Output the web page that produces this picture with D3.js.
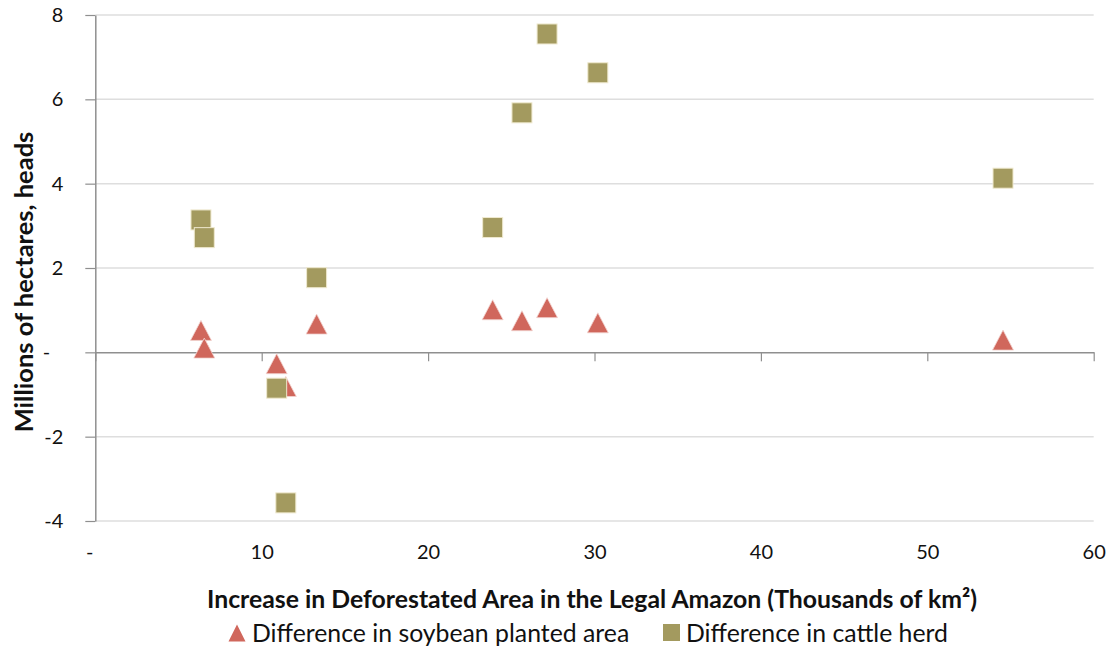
<!DOCTYPE html>
<html>
<head>
<meta charset="utf-8">
<script src="https://cdn.jsdelivr.net/npm/d3@7"></script>
<style>
  html, body { margin: 0; padding: 0; background: #fff; }
  svg { display: block; font-family: Lato, "Open Sans", sans-serif; }
</style>
</head>
<body>
<svg id="chart" width="1112" height="649"></svg>
<script>
// ---- data ----
const deforestation = [6.35, 6.55, 13.3, 10.9, 11.45, 23.88, 25.64, 27.15, 30.2, 54.55];
const soybean = [0.52, 0.10, 0.67, -0.27, -0.81, 1.01, 0.75, 1.06, 0.70, 0.29];
const cattle = [3.14, 2.72, 1.77, -0.85, -3.57, 2.96, 5.68, 7.55, 6.63, 4.13];
const xTicks = [0, 10, 20, 30, 40, 50, 60];
const yTicks = [-4, -2, 0, 2, 4, 6, 8];
const seriesNames = ["Difference in soybean planted area", "Difference in cattle herd"];
const xTitle = "Increase in Deforestated Area in the Legal Amazon (Thousands of km²)";
const yTitle = "Millions of hectares, heads";

// ---- styles ----
const triColor = "#D0675C";
const sqColor = "#A39A5F";
const axisColor = "#8f8f8f";
const gridColor = "#dedede";

const svg = d3.select("#chart");
const x = d3.scaleLinear().domain([0, 60]).range([95.3, 1093.7]);
const y = d3.scaleLinear().domain([-4, 8]).range([521, 15]);

// gridlines
svg.append("g").selectAll("line")
  .data(yTicks.filter(d => d !== 0))
  .join("line")
  .attr("x1", x(0)).attr("x2", x(60))
  .attr("y1", d => y(d)).attr("y2", d => y(d))
  .attr("stroke", gridColor).attr("stroke-width", 1.5);

// y axis
const yAxis = svg.append("g")
  .attr("transform", `translate(${x(0)},0)`)
  .call(d3.axisLeft(y).tickValues(yTicks).tickSize(10).tickSizeOuter(0).tickPadding(22)
    .tickFormat(d => d === 0 ? "-" : d));
yAxis.select(".domain").attr("stroke", axisColor).attr("stroke-width", 1.5);
yAxis.selectAll(".tick line").attr("stroke", axisColor).attr("stroke-width", 1.2);
yAxis.selectAll(".tick text").attr("font-size", 20).attr("fill", "#111")
  .attr("font-family", "Lato, sans-serif")
  .attr("dx", d => d === 0 ? -13 : 0);

// x axis line at zero
const xAxis = svg.append("g")
  .attr("transform", `translate(0,${y(0)})`)
  .call(d3.axisBottom(x).tickValues(xTicks).tickSize(9).tickSizeOuter(0).tickFormat(""));
xAxis.select(".domain").attr("stroke", axisColor).attr("stroke-width", 1.5);
xAxis.selectAll(".tick line").attr("stroke", axisColor).attr("stroke-width", 1.2);

// x labels at bottom
const xLab = svg.append("g")
  .attr("transform", `translate(0,${y(-4)})`)
  .call(d3.axisBottom(x).tickValues(xTicks).tickSize(0).tickPadding(24)
    .tickFormat(d => d === 0 ? "-" : d));
xLab.select(".domain").remove();
xLab.selectAll(".tick text").attr("font-size", 20).attr("fill", "#111")
  .attr("font-family", "Lato, sans-serif")
  .attr("dx", d => d === 0 ? -6 : 0);

// markers
const triW = 21, triH = 20, sq = 20;
function triPath(cx, cy, w, h) {
  return `M${cx},${cy - h / 2}L${cx + w / 2},${cy + h / 2}L${cx - w / 2},${cy + h / 2}Z`;
}
svg.append("g").selectAll("path")
  .data(deforestation.map((d, i) => [d, soybean[i]]))
  .join("path")
  .attr("d", d => triPath(x(d[0]), y(d[1]), triW, triH))
  .attr("fill", triColor).attr("stroke", "#f3d6d2").attr("stroke-width", 0.8);

svg.append("g").selectAll("rect")
  .data(deforestation.map((d, i) => [d, cattle[i]]))
  .join("rect")
  .attr("x", d => x(d[0]) - sq / 2).attr("y", d => y(d[1]) - sq / 2)
  .attr("width", sq).attr("height", sq)
  .attr("fill", sqColor).attr("stroke", "#efe9cf").attr("stroke-width", 1);

// axis titles
svg.append("text")
  .attr("x", 592).attr("y", 608)
  .attr("text-anchor", "middle")
  .attr("font-size", 24.8).attr("font-weight", "bold").attr("fill", "#111")
  .text(xTitle);

svg.append("text")
  .attr("transform", `translate(33,282) rotate(-90)`)
  .attr("text-anchor", "middle")
  .attr("font-size", 25.5).attr("font-weight", "bold").attr("fill", "#111")
  .text(yTitle);

// legend
const legend = svg.append("g");
legend.append("path").attr("d", triPath(237, 633, 17, 17)).attr("fill", triColor);
legend.append("text").attr("x", 252).attr("y", 642).attr("font-size", 24.8).attr("fill", "#111")
  .text(seriesNames[0]);
legend.append("rect").attr("x", 663).attr("y", 624).attr("width", 17).attr("height", 17).attr("fill", sqColor);
legend.append("text").attr("x", 686).attr("y", 642).attr("font-size", 24.8).attr("fill", "#111")
  .text(seriesNames[1]);
</script>
</body>
</html>
